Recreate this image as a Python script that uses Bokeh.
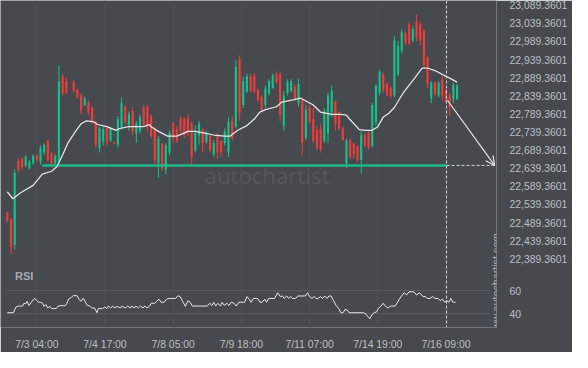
import math
from bokeh.plotting import figure
from bokeh.models import Range1d, FixedTicker, ColumnDataSource, Span, Label, Arrow, OpenHead
from bokeh.embed import file_html
from bokeh.resources import INLINE

NAN = float("nan")

# ---------------- data ----------------
# candle position (hour index, 2-hour bars)
bar_hours = list(range(0, 246, 2))

opens = [22516, 22497, 22427, 22660, 22665, 22647, 22639, 22652, 22675, 22657,
         22683, 22715, 22681, 22652, 22657, 22893, 22880, NAN, 22877, 22856,
         22840, 22814, 22822, 22806, 22767, 22696, 22715, 22751, 22715, 22711,
         22704, 22751, 22809, 22759, 22798, 22736, 22743, 22806, 22809, 22783,
         22746, 22652, 22707, 22636, 22683, 22762, 22746, 22777, 22775, 22777,
         22762, 22689, 22730, 22746, 22712, 22728, 22678, 22728, 22715, 22709,
         22683, 22770, 22754, 22940, 22814, 22851, 22893, 22893, 22856, 22835,
         22814, 22846, 22861, 22901, 22898, 22757, 22846, 22853, 22864, 22819,
         22830, 22722, 22806, 22775, 22746, 22749, 22715, 22736, 22793, 22822,
         22793, 22749, 22652, 22717, 22707, 22699, 22662, 22730, 22736, 22702,
         22767, 22846, 22898, 22872, 22861, 22840, 22898, 22964, 23013, 23037,
         22992, 23045, 23037, 23019, 22945, 22832, 22875, 22840, 22885, 22856,
         22840, 22830, 22830]

highs = [22518, 22503, 22636, 22668, 22670, 22675, 22662, 22678, 22678, 22702,
         22707, 22717, 22683, 22678, 22924, 22901, 22888, NAN, 22882, 22859,
         22846, 22838, 22827, 22809, 22770, 22754, 22754, 22757, 22754, 22712,
         22783, 22835, 22814, 22796, 22806, 22770, 22788, 22814, 22814, 22788,
         22754, 22728, 22709, 22709, 22743, 22767, 22754, 22783, 22780, 22788,
         22767, 22757, 22770, 22749, 22743, 22730, 22717, 22736, 22717, 22749,
         22780, 22783, 22937, 22950, 22893, 22901, 22901, 22901, 22859, 22840,
         22867, 22885, 22901, 22906, 22906, 22853, 22885, 22885, 22872, 22885,
         22832, 22814, 22814, 22806, 22754, 22762, 22806, 22848, 22867, 22827,
         22796, 22754, 22722, 22722, 22709, 22702, 22741, 22736, 22743, 22819,
         22872, 22911, 22903, 22875, 22867, 23003, 22990, 23024, 23019, 23042,
         23032, 23063, 23045, 23024, 22950, 22880, 22880, 22880, 22893, 22859,
         22848, 22875, 22872]

lows = [22490, 22403, 22414, 22628, 22636, 22641, 22636, 22649, 22657, 22649,
        22675, 22657, 22649, 22649, 22652, 22840, 22843, NAN, 22848, 22830,
        22788, 22811, 22785, 22762, 22696, 22683, 22702, 22702, 22712, 22707,
        22696, 22746, 22759, 22743, 22730, 22709, 22736, 22754, 22741, 22722,
        22649, 22613, 22631, 22623, 22675, 22709, 22709, 22736, 22722, 22728,
        22649, 22683, 22704, 22683, 22707, 22683, 22670, 22665, 22670, 22702,
        22670, 22715, 22749, 22770, 22806, 22846, 22848, 22846, 22822, 22796,
        22806, 22840, 22859, 22872, 22770, 22743, 22840, 22848, 22827, 22809,
        22675, 22717, 22762, 22709, 22689, 22683, 22709, 22709, 22780, 22743,
        22743, 22715, 22639, 22665, 22665, 22657, 22626, 22696, 22691, 22696,
        22757, 22840, 22848, 22838, 22832, 22835, 22893, 22956, 22979, 22979,
        22987, 22990, 22979, 22914, 22861, 22819, 22838, 22835, 22827, 22819,
        22783, 22819, 22827]

closes = [22495, 22422, 22626, 22634, 22641, 22670, 22657, 22673, 22662, 22696,
          22704, 22662, 22652, 22673, 22880, 22846, 22848, NAN, 22853, 22835,
          22798, 22832, 22793, 22767, 22704, 22749, 22746, 22709, 22749, 22708,
          22775, 22819, 22767, 22788, 22741, 22764, 22780, 22759, 22751, 22728,
          22662, 22720, 22639, 22702, 22736, 22722, 22715, 22743, 22730, 22736,
          22670, 22736, 22762, 22709, 22738, 22689, 22709, 22683, 22683, 22741,
          22767, 22722, 22919, 22793, 22880, 22893, 22853, 22851, 22827, 22801,
          22859, 22880, 22895, 22877, 22788, 22840, 22877, 22880, 22832, 22872,
          22709, 22801, 22767, 22715, 22696, 22691, 22796, 22840, 22853, 22762,
          22749, 22717, 22715, 22670, 22678, 22662, 22730, 22702, 22696, 22814,
          22867, 22906, 22853, 22840, 22838, 22992, 22977, 23016, 22985, 22985,
          23024, 22998, 22992, 22924, 22872, 22875, 22843, 22875, 22840, 22822,
          22809, 22869, 22867]

# moving average (hour index, price)
ma_hours = [0, 3, 7, 14, 19, 24, 27, 30, 33, 37,
            40, 43, 47, 49, 54, 59, 61, 66, 74, 77,
            78, 82, 87, 92, 98, 102, 107, 112, 118, 121,
            125, 130, 134, 137, 140, 146, 149, 155, 159, 163,
            166, 170, 176, 181, 184, 186, 191, 194, 198, 201,
            204, 207, 210, 215, 221, 225, 228, 232, 238, 240,
            244]
ma_values = [22574, 22555, 22571, 22592, 22623, 22631, 22644, 22676, 22710, 22741,
             22762, 22770, 22767, 22760, 22754, 22744, 22749, 22754, 22754, 22760,
             22754, 22741, 22728, 22728, 22741, 22741, 22736, 22731, 22728, 22728,
             22744, 22757, 22775, 22794, 22801, 22809, 22822, 22828, 22833, 22822,
             22814, 22794, 22788, 22788, 22786, 22773, 22746, 22744, 22744, 22754,
             22781, 22791, 22807, 22849, 22888, 22916, 22916, 22909, 22893, 22888,
             22877]

# RSI (hour index, value)
rsi_points = [
    (0, 40.8), (3.3, 40.8), (4.7, 45.8), (6, 46.6), (8.3, 46.6), (9, 49.0), (10, 48.5), (10.7, 50.7),
    (11.8, 47.1), (13, 49.9), (13.9, 51.8), (15, 53.2), (16, 51.2), (17, 49.9), (18.1, 49.9), (19.2, 49.0),
    (19.9, 46.3), (20.9, 47.9), (22, 44.9), (23.1, 46.3), (24.1, 44.4), (26.6, 44.4), (27.6, 46.6),
    (29.7, 47.1), (31.1, 46.6), (32.4, 49.0), (33.2, 52.6), (34.7, 54.0), (35.7, 55.6), (37.8, 55.6),
    (38.9, 52.6), (39.9, 50.7), (41.2, 53.4), (42.4, 49.9), (43.4, 47.1), (44.7, 46.6), (45.9, 44.9),
    (47.3, 44.9), (48.7, 40.8), (49.4, 44.4), (51.7, 44.4), (52.9, 45.8), (54, 44.4), (55, 46.6),
    (56.1, 44.9), (57.2, 46.6), (58.2, 44.9), (59.6, 46.3), (61.4, 44.9), (62.3, 46.6), (64, 44.9),
    (65.3, 46.6), (66.7, 44.9), (67.5, 46.6), (68.8, 44.9), (69.8, 46.6), (71.1, 44.9), (72.3, 46.6),
    (73.7, 44.9), (74.6, 46.6), (75.8, 44.9), (77.2, 46.6), (78.1, 49.0), (79.9, 49.0), (81.1, 50.7),
    (82.2, 52.6), (83.4, 49.9), (85.1, 49.9), (86.4, 52.6), (87.8, 53.2), (91.3, 53.2), (92.7, 55.6),
    (93.9, 54.5), (95.1, 50.7), (96.6, 46.3), (98, 51.2), (99.2, 49.9), (100.4, 46.6), (108.5, 46.6),
    (109.8, 49.0), (111, 47.1), (112, 49.9), (113.1, 46.6), (114.2, 49.0), (115.6, 46.6), (116.6, 49.9),
    (117.7, 47.1), (119.1, 49.0), (120.3, 47.1), (121.5, 49.9), (123, 49.0), (124.2, 46.6), (125.6, 49.9),
    (128.8, 49.9), (130, 54.8), (131.2, 52.6), (132.3, 49.9), (133.5, 53.2), (135.8, 53.2), (137, 49.9),
    (138.3, 49.9), (139.7, 52.6), (140.7, 49.9), (141.8, 53.2), (145, 53.2), (146.7, 58.1), (148.1, 54.8),
    (149.3, 55.3), (150.2, 53.2), (151.6, 55.3), (152.7, 53.2), (153.7, 54.8), (154.8, 53.2), (156.4, 53.2),
    (157.6, 55.3), (161.6, 55.3), (162.9, 58.1), (163.9, 54.8), (165.3, 53.2), (166.4, 54.8), (167.5, 53.2),
    (168.7, 53.2), (169.9, 54.8), (171, 53.2), (172.2, 55.3), (173.5, 53.2), (174.5, 55.3), (175.7, 55.3),
    (177, 51.2), (178.4, 47.1), (179.8, 44.4), (181, 40.8), (182.2, 40.8), (183.3, 43.8), (184.5, 43.0),
    (185.4, 40.8), (193.3, 40.8), (194.6, 39.5), (195.6, 37.5), (196.7, 35.6), (197.7, 38.9), (199.1, 40.8),
    (200.4, 41.6), (201.2, 44.4), (202.6, 46.3), (203.9, 49.0), (205.1, 46.6), (206.5, 44.9), (207.9, 46.6),
    (210.4, 46.6), (211.4, 49.0), (212.7, 52.6), (213.9, 55.3), (215.3, 58.1), (216.7, 56.2), (217.9, 58.9),
    (220.6, 58.9), (222, 56.2), (223.7, 58.1), (225.5, 54.8), (226.7, 54.8), (228, 53.2), (229.3, 53.2),
    (230.8, 54.8), (232, 53.2), (233.8, 53.2), (235, 51.2), (236, 52.6), (237.3, 49.9), (238.5, 51.2),
    (239.6, 49.9), (240.6, 53.2), (241.7, 49.9), (243.2, 49.9),
]

x_tick_hours = [16, 53, 90, 127, 164, 201, 238]
x_tick_labels = ["7/3 04:00", "7/4 17:00", "7/8 05:00", "7/9 18:00", "7/11 07:00", "7/14 19:00", "7/16 09:00"]

price_tick_labels = ["22,389.3601", "22,439.3601", "22,489.3601", "22,539.3601", "22,589.3601",
                     "22,639.3601", "22,689.3601", "22,739.3601", "22,789.3601", "22,839.3601",
                     "22,889.3601", "22,939.3601", "22,989.3601", "23,039.3601", "23,089.3601"]
rsi_tick_values = [40, 60]
rsi_tick_labels = ["40", "60"]

support_level = 22647
support_start_hour = 19
signal_hour = 238.3
forecast_start = (238.8, 22827)
forecast_end_hour = 264.4

# ---------------- style ----------------
BG = "#464a4f"
GREEN = "#17c189"
RED = "#f03c3c"
LINE_W = "#e6e6e6"
LABEL_C = "#bcbfc3"
FONT = "Liberation Sans"

assert len(opens) == len(highs) == len(lows) == len(closes) == len(bar_hours)
assert len(ma_hours) == len(ma_values)

price_range = Range1d(22199.5, 23102.4)
rsi_range = Range1d(28.0, 311.4)

p = figure(width=572, height=352, x_range=Range1d(-3.69, 265.4), y_range=price_range,
           output_backend="svg", toolbar_location=None, y_axis_location="right",
           background_fill_color=BG, border_fill_color=BG, outline_line_color=None,
           min_border_left=0, min_border_right=76, min_border_top=0, min_border_bottom=22)
p.extra_y_ranges = {"rsi": rsi_range}

# grid
p.xgrid.ticker = FixedTicker(ticks=x_tick_hours)
p.xgrid.grid_line_color = "#4c5055"
p.ygrid.grid_line_color = None

# x axis
xa = p.xaxis[0]
xa.ticker = FixedTicker(ticks=x_tick_hours)
xa.major_label_overrides = {h: lab for h, lab in zip(x_tick_hours, x_tick_labels)}
# y axis (price ticks + RSI ticks mapped into the price range)
price_ticks = [float(s.replace(",", "")) for s in price_tick_labels]
def rsi_to_main(v):
    f = (v - rsi_range.start) / (rsi_range.end - rsi_range.start)
    return round(price_range.start + f * (price_range.end - price_range.start), 4)
rsi_ticks_main = [rsi_to_main(v) for v in rsi_tick_values]
ya = p.yaxis[0]
ya.ticker = FixedTicker(ticks=price_ticks + rsi_ticks_main)
overrides = {t: s for t, s in zip(price_ticks, price_tick_labels)}
overrides.update({t: s for t, s in zip(rsi_ticks_main, rsi_tick_labels)})
ya.major_label_overrides = overrides

for ax, standoff in ((xa, 5), (ya, 7)):
    ax.axis_line_color = None
    ax.major_tick_line_color = None
    ax.minor_tick_line_color = None
    ax.major_label_text_color = LABEL_C
    ax.major_label_text_font = FONT
    ax.major_label_text_font_size = "10.4px"
    ax.major_label_standoff = standoff

# watermark
p.add_layout(Label(x=140.9, y=22621, text="autochartist", text_align="center", text_baseline="middle",
                   text_color="#52565b", text_font="Noto Sans", text_font_size="22px"))

# RSI grid lines
p.segment(x0=[0, 0], x1=[262, 262], y0=rsi_tick_values, y1=rsi_tick_values,
          y_range_name="rsi", line_color="#5a5e63", line_width=1)

# candles
tops = [max(o, c) if o == o else NAN for o, c in zip(opens, closes)]
bottoms = [min(o, c) if o == o else NAN for o, c in zip(opens, closes)]
colors = [GREEN if c >= o else RED for o, c in zip(opens, closes)]
src = ColumnDataSource(dict(x=bar_hours, top=tops, bottom=bottoms, high=highs, low=lows, color=colors))
p.segment(x0="x", x1="x", y0="low", y1="high", source=src, line_color="color", line_width=1)
p.vbar(x="x", width=1.15, top="top", bottom="bottom", source=src, fill_color="color", line_color=None)

# support line
p.line(x=[support_start_hour, signal_hour], y=[support_level, support_level],
       line_color="#1cb887", line_width=2.6)
p.line(x=[signal_hour, forecast_end_hour], y=[support_level, support_level],
       line_color="#d4d4d4", line_width=1, line_dash="3 2")

# moving average
p.line(x=ma_hours, y=ma_values, line_color=LINE_W, line_width=1.25)

# RSI line
rsi_h = [a for a, b in rsi_points]
rsi_v = [b for a, b in rsi_points]
p.line(x=rsi_h, y=rsi_v, y_range_name="rsi", line_color=LINE_W, line_width=1)

# vertical signal line
p.add_layout(Span(location=signal_hour, dimension="height", line_color="#d4d4d4",
                  line_width=1, line_dash="3 2"))

# forecast arrow
p.add_layout(Arrow(end=OpenHead(size=9, line_color=LINE_W, line_width=1.2),
                   x_start=forecast_start[0], y_start=forecast_start[1],
                   x_end=forecast_end_hour, y_end=support_level,
                   line_color=LINE_W, line_width=1.2))

# labels
p.add_layout(Label(x=4.2, y=72.3, y_range_name="rsi", text="RSI", text_baseline="middle",
                   text_color="#a7acb2", text_font=FONT, text_font_style="bold", text_font_size="11px"))
p.add_layout(Label(x=264.9, y=22317, text="www.autochartist.com", angle=math.pi / 2,
                   text_align="center", text_baseline="middle", text_color="#aeb2b7",
                   text_font=FONT, text_font_size="10.7px"))

open("out.html", "w").write(file_html(p, INLINE))
